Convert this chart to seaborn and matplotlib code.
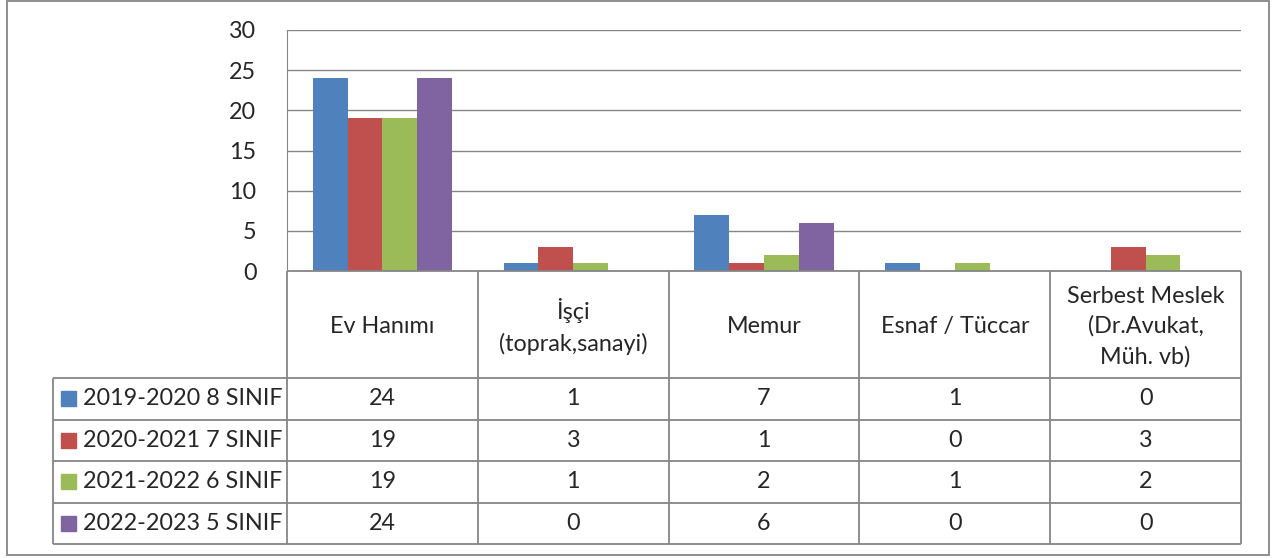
import pandas as pd
import matplotlib.pyplot as plt
import seaborn as sb
from matplotlib.patches import Rectangle

# data
categories = ['Ev Hanımı', 'İşçi\n(toprak,sanayi)', 'Memur', 'Esnaf / Tüccar',
              'Serbest Meslek\n(Dr.Avukat,\nMüh. vb)']
series = ['2019-2020 8 SINIF', '2020-2021 7 SINIF', '2021-2022 6 SINIF', '2022-2023 5 SINIF']
s2019 = [24, 1, 7, 1, 0]
s2020 = [19, 3, 1, 0, 3]
s2021 = [19, 1, 2, 1, 2]
s2022 = [24, 0, 6, 0, 0]
colors = ['#4F81BD', '#C0504D', '#9BBB59', '#8064A2']

rows = [s2019, s2020, s2021, s2022]
df = pd.DataFrame([(c, s, v) for s, vals in zip(series, rows) for c, v in zip(categories, vals)],
                  columns=['Meslek', 'Seri', 'Sayi'])

sb.set_style('white')
plt.rcParams['font.family'] = ['Lato', 'DejaVu Sans']
grid_c = '#868686'
fs = 16.8

W, H = 1276, 558
fig = plt.figure(figsize=(W / 100, H / 100), dpi=100)

# pixel layout
left, right, top, bottom = 287, 1241, 30, 271
ax = fig.add_axes([left / W, 1 - bottom / H, (right - left) / W, (bottom - top) / H])
sb.barplot(df, x='Meslek', y='Sayi', hue='Seri', palette=colors, width=0.73,
           saturation=1, linewidth=0, ax=ax, legend=False)
ax.set_xlim(-0.5, len(categories) - 0.5)
ax.set_ylim(0, 30)
ax.set_yticks(range(0, 31, 5))
ax.yaxis.grid(True, color=grid_c, lw=1)
ax.set_axisbelow(True)
ax.set_xticks([])
ax.set_xlabel('')
ax.set_ylabel('')
ax.tick_params(axis='y', length=0, pad=22, labelsize=fs)
for sp in ['top', 'right', 'bottom']:
    ax.spines[sp].set_visible(False)
ax.spines['left'].set_color(grid_c)

# data table below the plot, drawn in pixel coordinates
tab = fig.add_axes([0, 0, 1, 1])
tab.set_xlim(0, W)
tab.set_ylim(H, 0)
tab.axis('off')
tab.patch.set_alpha(0)

leg_left = 53
head_bot = 378
row_h = 41.5
ncol = len(categories)
col_w = (right - left) / ncol
row_lines = [head_bot + i * row_h for i in range(len(series) + 1)]

tab.hlines(bottom, left, right, color=grid_c, lw=1.3)
tab.hlines(row_lines, leg_left, right, color=grid_c, lw=1.3)
tab.vlines([left + i * col_w for i in range(ncol + 1)], bottom, row_lines[-1], color=grid_c, lw=1.3)
tab.vlines(leg_left, head_bot, row_lines[-1], color=grid_c, lw=1.3)

for i, cat in enumerate(categories):
    tab.text(left + (i + 0.5) * col_w, (bottom + head_bot) / 2 + 2, cat, ha='center', va='center',
             fontsize=fs, linespacing=1.5)

for r, (name, vals, col) in enumerate(zip(series, rows, colors)):
    yc = row_lines[r] + row_h / 2
    tab.add_patch(Rectangle((61, yc - 7.5), 15, 15, color=col))
    tab.text(83, yc, name, ha='left', va='center', fontsize=fs)
    for i, v in enumerate(vals):
        tab.text(left + (i + 0.5) * col_w, yc, str(v), ha='center', va='center', fontsize=fs)

# outer chart border
tab.add_patch(Rectangle((7, 1), 1262, 554, fill=False, ec=grid_c, lw=1.3))

fig.savefig('out.png', dpi=100)
